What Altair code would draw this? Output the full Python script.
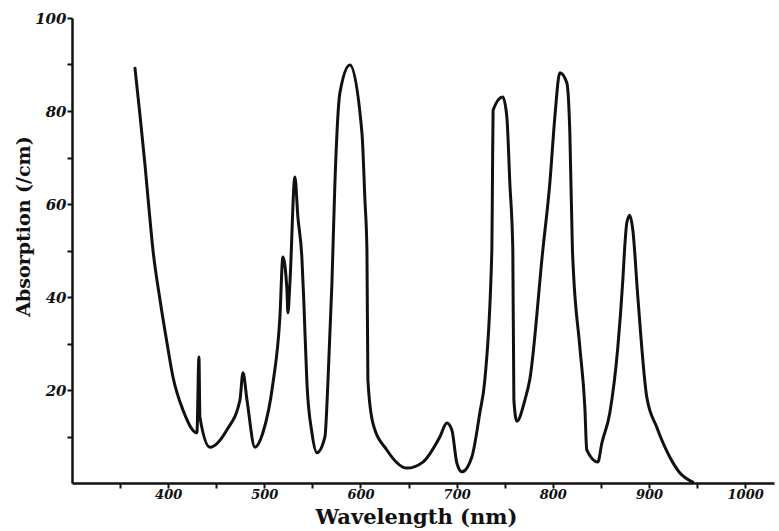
import altair as alt
import pandas as pd

wavelength = [365.5, 370.7, 375.9, 380, 384.2, 391.5, 398.8, 405, 415.4, 429.9, 432, 433, 443.5,
              461, 474.6, 477.8, 482, 490.2, 498.5, 509, 516.2, 519.3, 523.5, 524.5, 526.6,
              531.8, 534.9, 539, 541, 544.3, 549.5, 554.7, 563, 566.1, 570.3, 573.4, 578.6,
              589, 601.5, 604.6, 606.7, 607.7, 612.9, 627.4, 648.2, 664.9, 682.5, 689.8, 695,
              700.2, 705.4, 715.8, 724.1, 729.3, 736.6, 737.2, 737.9, 748, 752.2, 755.3, 758.4,
              759.5, 762.6, 770.9, 776, 789.6, 796.9, 802.1, 807.3, 814.6, 817.7, 820.4, 821.5,
              828.1, 833.3, 835.3, 846.8, 851, 859.3, 867.6, 872.8, 874.8, 876.9, 880, 883.2,
              888.4, 897.7, 908.1, 921.6, 932, 945.5]
absorption = [89.2, 79.1, 68.4, 59.1, 50.1, 39.4, 30.1, 22.8, 15.7, 10.8, 27.1, 14.2, 7.7,
              11.4, 17.8, 23.7, 17.8, 7.7, 10.8, 21.5, 35.7, 48.6, 41.5, 36.6, 43,
              65.8, 57.2, 48.6, 39.4, 21.5, 10.8, 6.5, 9.9, 21.5, 43, 64.5, 83.9,
              89.9, 75.3, 60.9, 50.1, 22.2, 12.9, 7.1, 3.2, 4.5, 9.9, 12.9, 11.4,
              4.3, 2.4, 5.6, 15.1, 22.2, 50.1, 64.5, 80.2, 83, 78.7, 64.5, 50.1,
              17.8, 13.3, 17.8, 22.2, 50.1, 64.5, 78.7, 88.2, 86, 75.3, 50.1, 45.2,
              29.2, 16.3, 7.1, 4.5, 8.6, 15.1, 29.2, 43.7, 50.8, 55.9, 57.6, 54.4,
              40, 18.5, 12, 5.6, 2.2, 0.2]

x_ticks = [350, 400, 450, 500, 550, 600, 650, 700, 750, 800, 850, 900, 950, 1000]
y_ticks = [10, 20, 30, 40, 50, 60, 70, 80, 90, 100]

df = pd.DataFrame({"wl": wavelength, "ab": absorption})

chart = alt.Chart(df).mark_line(
    color="#111111", strokeWidth=3, interpolate="monotone", strokeJoin="round", strokeCap="round"
).encode(
    x=alt.X("wl:Q", scale=alt.Scale(domain=[300, 1030], nice=False, zero=False),
            axis=alt.Axis(values=x_ticks, title="Wavelength (nm)", format="d",
                          labelExpr="datum.value % 100 == 0 ? datum.label : ''",
                          grid=False, domainColor="#111", domainWidth=2.5,
                          tickColor="#111", tickWidth=2, tickSize=5,
                          labelFont="DejaVu Serif", labelFontStyle="italic", labelFontWeight="bold",
                          labelFontSize=13, labelColor="#111", labelPadding=0,
                          titleFont="DejaVu Serif", titleFontWeight="bold", titleFontSize=21,
                          titleColor="#111", titleX=344, titleY=40, titleBaseline="alphabetic",
                          titleAlign="center")),
    y=alt.Y("ab:Q", scale=alt.Scale(domain=[0, 100], nice=False),
            axis=alt.Axis(values=y_ticks, title="Absorption (/cm)", format="d",
                          labelExpr="datum.value % 20 == 0 ? datum.label : ''",
                          grid=False, domainColor="#111", domainWidth=2.5,
                          tickColor="#111", tickWidth=2, tickSize=5,
                          labelFont="DejaVu Serif", labelFontStyle="italic", labelFontWeight="bold",
                          labelFontSize=15, labelColor="#111", labelPadding=1,
                          titleFont="DejaVu Serif", titleFontWeight="bold", titleFontSize=19,
                          titleColor="#111", titleX=-49, titleY=208, titleAngle=-90,
                          titleAlign="center", titleBaseline="middle")),
).properties(
    width=702, height=465,
    autosize=alt.AutoSizeParams(type="none"),
    padding={"left": 72, "top": 18, "right": 5, "bottom": 48},
    background="white",
).configure_view(stroke=None)

chart.save("out.html", embed_options={"renderer": "svg", "actions": False})
